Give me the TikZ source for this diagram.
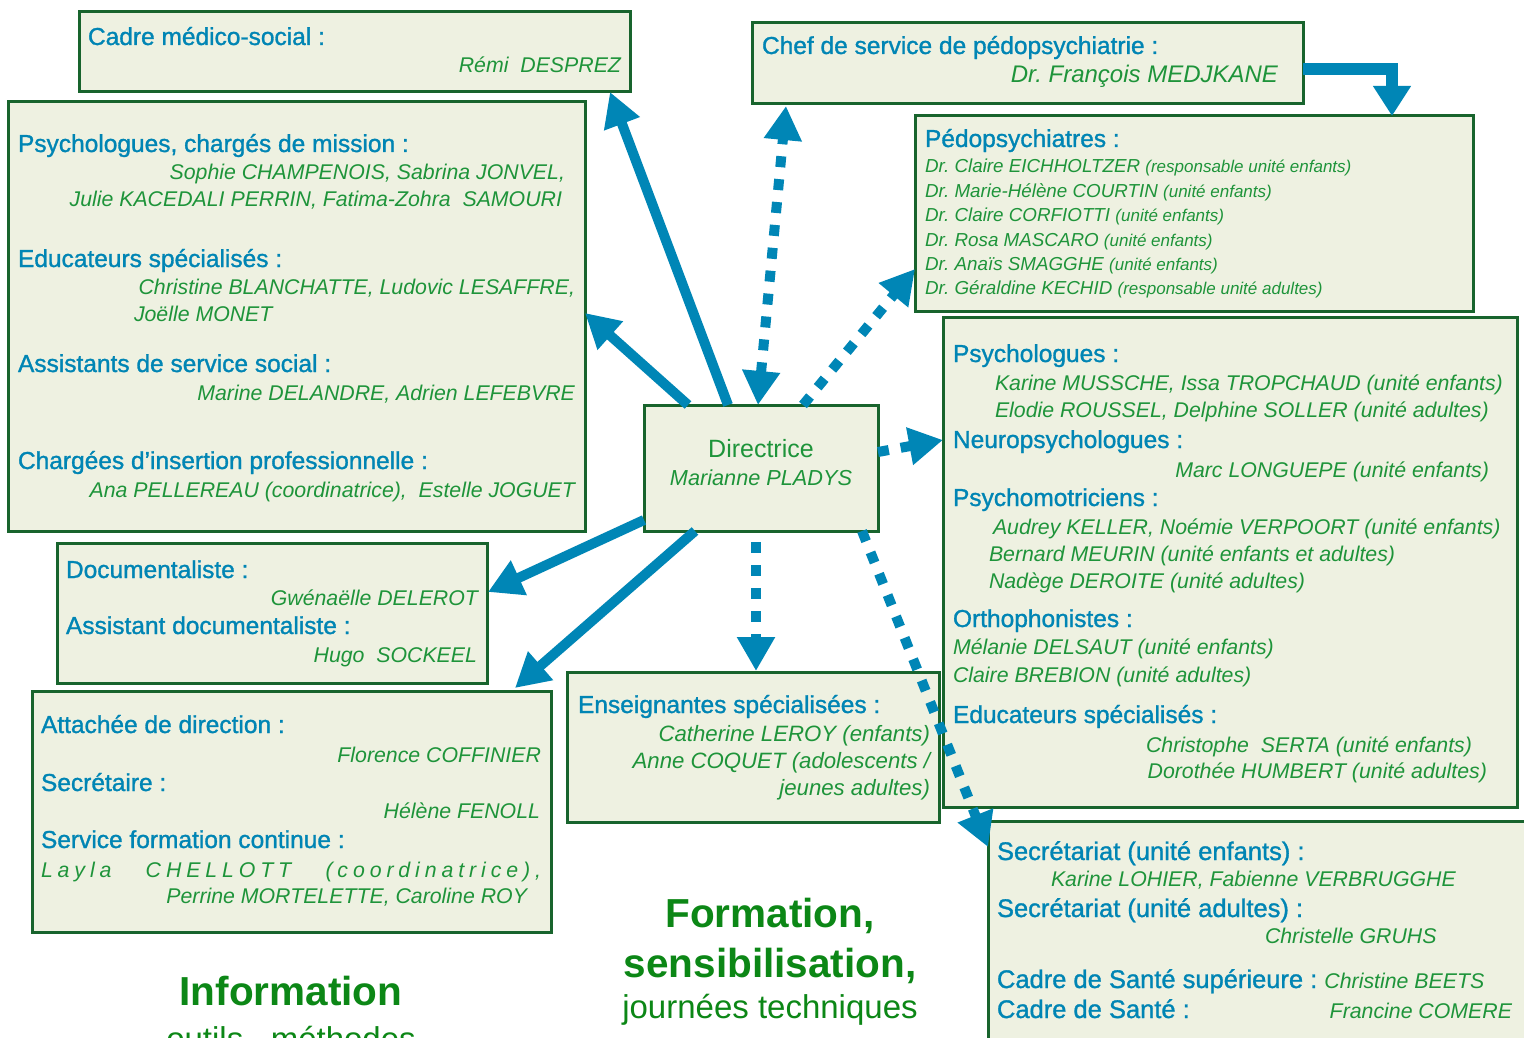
\documentclass[tikz,border=0pt]{standalone}
\usepackage{fontspec}
\setmainfont{Liberation Sans}
\newfontfamily\hdfam[FakeBold=1.2]{Liberation Sans}
\usetikzlibrary{arrows.meta,calc}
\definecolor{headblue}{RGB}{0,133,180}
\definecolor{namegreen}{RGB}{30,148,58}
\definecolor{boxgreen}{RGB}{24,100,45}
\definecolor{boxfill}{RGB}{238,241,225}
\definecolor{arrowblue}{RGB}{0,134,182}
\definecolor{titlegreen}{RGB}{12,135,22}
\newcommand\lgap{\hskip 0pt plus 1fil\relax}
\newcommand\wgap{\hskip 0pt plus 7fil\relax}
\frenchspacing
\tikzset{
  box/.style={draw=boxgreen, line width=3pt, fill=boxfill, rectangle, anchor=north west, inner sep=0pt, outer sep=0pt},
  hd/.style={font=\hdfam\fontsize{24.5}{26}\selectfont, text=headblue, inner sep=0pt, outer sep=0pt},
  hdb/.style={font=\hdfam\fontsize{25.5}{27}\selectfont, text=headblue, inner sep=0pt, outer sep=0pt},
  nm/.style={font=\itshape\fontsize{21.3}{24}\selectfont, text=namegreen, inner sep=0pt, outer sep=0pt},
  nmbig/.style={font=\itshape\fontsize{24}{26}\selectfont, text=namegreen, inner sep=0pt, outer sep=0pt},
  ens/.style={font=\itshape\fontsize{22.2}{25}\selectfont, text=namegreen, inner sep=0pt, outer sep=0pt},
  pd/.style={font=\itshape\fontsize{18.8}{21}\selectfont, text=namegreen, inner sep=0pt, outer sep=0pt},
  dirt/.style={font=\fontsize{25}{27}\selectfont, text=namegreen, inner sep=0pt, outer sep=0pt},
  bigt/.style={font=\bfseries\fontsize{40.5}{44}\selectfont, text=titlegreen, inner sep=0pt, outer sep=0pt},
  subt/.style={font=\fontsize{33}{36}\selectfont, text=titlegreen, inner sep=0pt, outer sep=0pt},
  solidarr/.style={draw=arrowblue, line width=10pt, -{Triangle[length=34pt,width=36pt]}},
  dotarr/.style={draw=arrowblue, line width=10pt, dash pattern=on 11pt off 12pt, -{Triangle[length=34pt,width=36pt]}},
  dotdbl/.style={draw=arrowblue, line width=10pt, dash pattern=on 11pt off 12pt, {Triangle[length=34pt,width=36pt]}-{Triangle[length=34pt,width=36pt]}},
}
\newcommand\ps[1]{{\fontsize{17}{19}\selectfont #1}}
\begin{document}
\begin{tikzpicture}[x=1pt,y=-1pt]
\useasboundingbox (0,0) rectangle (1524,1038);
\fill[white] (0,0) rectangle (1524,1038);
\clip (0,0) rectangle (1524,1038);

% boxes
\node[box, minimum width=551pt, minimum height=80pt] (cadre) at (79,12) {};
\node[box, minimum width=577pt, minimum height=429pt] (psy) at (8,102) {};
\node[box, minimum width=551pt, minimum height=81pt] (chef) at (752,23) {};
\node[box, minimum width=558pt, minimum height=195pt] (pedo) at (915,116) {};
\node[box, minimum width=574pt, minimum height=490pt] (rbox) at (943,317) {};
\node[box, minimum width=234pt, minimum height=126pt] (dir) at (644,405) {};
\node[box, minimum width=430pt, minimum height=140pt] (doc) at (57,543) {};
\node[box, minimum width=519pt, minimum height=241pt] (att) at (32,691) {};
\node[box, minimum width=372pt, minimum height=150pt] (ens) at (567,672) {};
\node[box, minimum width=580pt, minimum height=260pt] (sec) at (988,821) {};

% Cadre
\node[hd, anchor=base west] (c1) at (88,45) {Cadre médico-social :};
\node[nm, anchor=base east] (c2) at (621,73) {Rémi\ \ DESPREZ};

% Psy big box
\node[hd, anchor=base west] (p1) at (18,152) {Psychologues, chargés de mission :};
\node[nm, anchor=base east] (p2) at (565,179) {Sophie CHAMPENOIS, Sabrina JONVEL,};
\node[nm, anchor=base east] (p3) at (562,206) {Julie KACEDALI PERRIN, Fatima-Zohra\ \ SAMOURI};
\node[hd, anchor=base west] (p4) at (18,267) {Educateurs spécialisés :};
\node[nm, anchor=base east] (p5) at (575,294) {Christine BLANCHATTE, Ludovic LESAFFRE,};
\node[nm, anchor=base west] (p6) at (134,321) {Joëlle MONET};
\node[hd, anchor=base west] (p7) at (18,372) {Assistants de service social :};
\node[nm, anchor=base east] (p8) at (575,400) {Marine DELANDRE, Adrien LEFEBVRE};
\node[hd, anchor=base west] (p9) at (18,469) {Chargées d’insertion professionnelle :};
\node[nm, anchor=base east] (p10) at (575,497) {Ana PELLEREAU (coordinatrice),\ \ Estelle JOGUET};

% Chef
\node[hd, anchor=base west] (h1) at (762,54) {Chef de service de pédopsychiatrie :};
\node[nmbig, anchor=base east] (h2) at (1278,83) {Dr. François MEDJKANE};

% Pedo
\node[hd, anchor=base west] (d0) at (925,147) {Pédopsychiatres :};
\node[pd, anchor=base west] (d1) at (925,173) {Dr. Claire EICHHOLTZER \ps{(responsable unité enfants)}};
\node[pd, anchor=base west] (d2) at (925,197) {Dr. Marie-Hélène COURTIN \ps{(unité enfants)}};
\node[pd, anchor=base west] (d3) at (925,222) {Dr. Claire CORFIOTTI \ps{(unité enfants)}};
\node[pd, anchor=base west] (d4) at (925,246) {Dr. Rosa MASCARO \ps{(unité enfants)}};
\node[pd, anchor=base west] (d5) at (925,270) {Dr. Anaïs SMAGGHE \ps{(unité enfants)}};
\node[pd, anchor=base west] (d6) at (925,294) {Dr. Géraldine KECHID \ps{(responsable unité adultes)}};

% Directrice
\node[dirt, anchor=base] (x1) at (761,457) {Directrice};
\node[nm, anchor=base, font=\itshape\fontsize{21.7}{24}\selectfont] (x2) at (761,485) {Marianne PLADYS};

% Right box
\node[hd, anchor=base west] (r1) at (953,362) {Psychologues :};
\node[nm, anchor=base west] (r2) at (995,390) {Karine MUSSCHE, Issa TROPCHAUD (unité enfants)};
\node[nm, anchor=base west] (r3) at (995,417) {Elodie ROUSSEL, Delphine SOLLER (unité adultes)};
\node[hd, anchor=base west] (r4) at (953,448) {Neuropsychologues :};
\node[nm, anchor=base east] (r5) at (1489,477) {Marc LONGUEPE (unité enfants)};
\node[hd, anchor=base west] (r6) at (953,506) {Psychomotriciens :};
\node[nm, anchor=base west] (r7) at (993,534) {Audrey KELLER, Noémie VERPOORT (unité enfants)};
\node[nm, anchor=base west] (r8) at (989,561) {Bernard MEURIN (unité enfants et adultes)};
\node[nm, anchor=base west] (r9) at (989,588) {Nadège DEROITE (unité adultes)};
\node[hd, anchor=base west] (r10) at (953,627) {Orthophonistes :};
\node[nm, anchor=base west] (r11) at (953,654) {Mélanie DELSAUT (unité enfants)};
\node[nm, anchor=base west] (r12) at (953,682) {Claire BREBION (unité adultes)};
\node[hd, anchor=base west] (r13) at (953,723) {Educateurs spécialisés :};
\node[nm, anchor=base east] (r14) at (1472,752) {Christophe\ \ SERTA (unité enfants)};
\node[nm, anchor=base east] (r15) at (1487,778) {Dorothée HUMBERT (unité adultes)};

% Doc
\node[hd, anchor=base west] (o1) at (66,578) {Documentaliste :};
\node[nm, anchor=base east] (o2) at (478,605) {Gwénaëlle DELEROT};
\node[hd, anchor=base west] (o3) at (66,634) {Assistant documentaliste :};
\node[nm, anchor=base east] (o4) at (477,662) {Hugo\ \ SOCKEEL};

% Attachee
\node[hd, anchor=base west] (a1) at (41,733) {Attachée de direction :};
\node[nm, anchor=base east] (a2) at (541,762) {Florence COFFINIER};
\node[hd, anchor=base west] (a3) at (41,791) {Secrétaire :};
\node[nm, anchor=base east] (a4) at (540,818) {Hélène FENOLL};
\node[hd, anchor=base west] (a5) at (41,848) {Service formation continue :};
\node[nm, anchor=base west] (a6) at (41,877) {\hbox to 500pt{L\lgap a\lgap y\lgap l\lgap a\wgap C\lgap H\lgap E\lgap L\lgap L\lgap O\lgap T\lgap T\wgap (\lgap c\lgap o\lgap o\lgap r\lgap d\lgap i\lgap n\lgap a\lgap t\lgap r\lgap i\lgap c\lgap e\lgap )\lgap ,}};
\node[nm, anchor=base east] (a7) at (527,903) {Perrine MORTELETTE, Caroline ROY};

% Enseignantes
\node[hd, anchor=base west] (e1) at (578,713) {Enseignantes spécialisées :};
\node[ens, anchor=base east] (e2) at (930,741) {Catherine LEROY (enfants)};
\node[ens, anchor=base east] (e3) at (930,768) {Anne COQUET (adolescents /};
\node[ens, anchor=base east] (e4) at (930,795) {jeunes adultes)};

% Secretariat
\node[hdb, anchor=base west] (s1) at (997,860) {Secrétariat (unité enfants) :};
\node[nm, anchor=base west] (s2) at (1051,886) {Karine LOHIER, Fabienne VERBRUGGHE};
\node[hdb, anchor=base west] (s3) at (997,917) {Secrétariat (unité adultes) :};
\node[nm, anchor=base west] (s4) at (1265,943) {Christelle GRUHS};
\node[hdb, anchor=base west] (s5) at (997,988) {Cadre de Santé supérieure : {\normalfont\itshape\fontsize{21.3}{24}\selectfont\color{namegreen}Christine BEETS}};
\node[hdb, anchor=base west] (s6) at (997,1018) {Cadre de Santé :};
\node[nm, anchor=base east] (s7) at (1512,1018) {Francine COMERE};

% bottom titles
\node[bigt, anchor=base] (b1) at (291,1005) {Information};
\node[subt, anchor=base] (b2) at (291,1050) {outils,\ \ méthodes};
\node[bigt, anchor=base] (b3) at (770,927) {Formation,};
\node[bigt, anchor=base] (b4) at (770,977) {sensibilisation,};
\node[subt, anchor=base] (b5) at (770,1018) {journées techniques};

% solid arrows
\draw[solidarr] ($(dir.north west)+(84,0)$) -- ($(cadre.south west)+(531,0)$);
\draw[solidarr] ($(dir.north west)+(44,0)$) -- ($(psy.north east)+(0,211)$);
\draw[solidarr] ($(dir.north west)+(0,115)$) -- ($(doc.north east)+(1,49)$);
\draw[solidarr] ($(dir.south west)+(51,0)$) -- ($(att.north west)+(483,-3)$);
\draw[draw=arrowblue, line width=12pt, -{Triangle[length=30pt,width=36pt]}] ($(chef.north east)+(0,46)$) -| ($(pedo.north west)+(477,0)$);

% dotted arrows
\draw[dotdbl] ($(dir.north west)+(114,0)$) -- ($(chef.south west)+(34,2)$);
\draw[dotarr] ($(dir.north west)+(159,0)$) -- ($(pedo.south west)+(0,-42)$);
\draw[dotarr] ($(dir.north east)+(0,47)$) -- ($(rbox.north west)+(0,123)$);
\draw[dotarr] ($(dir.south west)+(112,11)$) -- ($(ens.north west)+(189,-1)$);
\draw[dotarr] ($(dir.south west)+(218,0)$) -- ($(sec.north west)+(0,26)$);
\end{tikzpicture}
\end{document}
